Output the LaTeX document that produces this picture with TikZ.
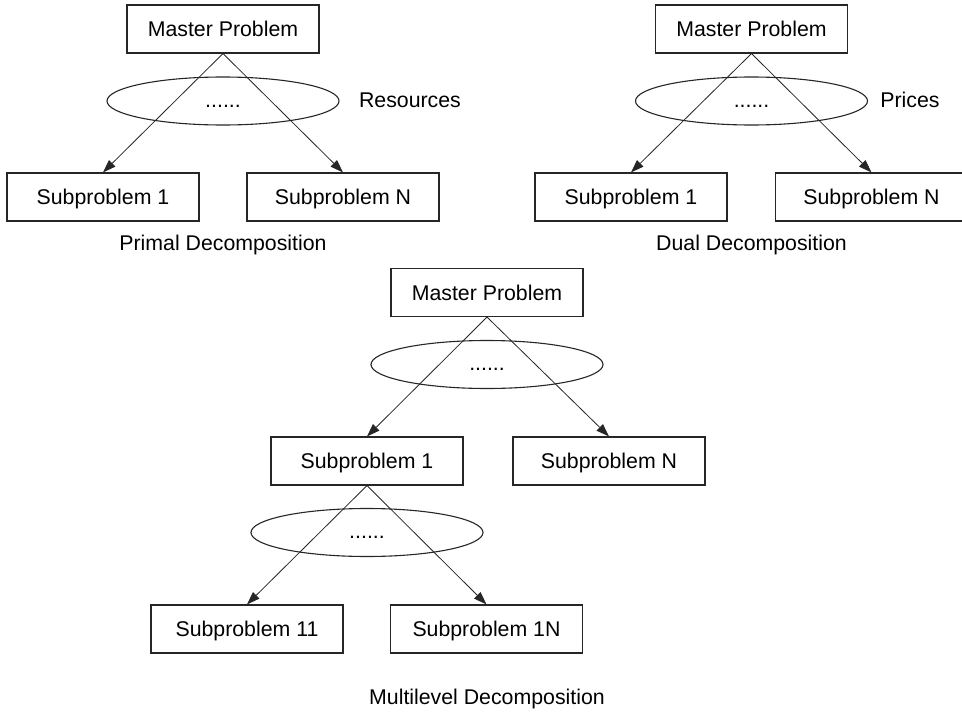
\documentclass[tikz,border=0pt]{standalone}
\usepackage{fontspec}
\setmainfont{Liberation Sans}
\usetikzlibrary{shapes.geometric,arrows.meta}
\begin{document}
\begin{tikzpicture}[x=1pt,y=-1pt,
  font=\fontsize{21.3}{25}\selectfont,
  box/.style={draw=black!85, line width=1.1pt, minimum width=192pt,
    minimum height=48pt, inner sep=0pt, text height=15.3pt, text depth=0pt},
  group/.style={draw=black!85, line width=1.1pt, ellipse, minimum width=232pt,
    minimum height=48pt, inner sep=0pt},
  dots/.style={inner sep=0pt, anchor=base},
  link/.style={draw=black!85, line width=0.8pt,
    -{Triangle[length=13pt,width=9pt]}},
  caption/.style={inner sep=0pt, text height=15.3pt, text depth=0pt}]

\useasboundingbox (0,0) rectangle (962,712);

% ---- Primal decomposition ----
\node[box] (pm) at (223,29) {Master Problem};
\node[group] (pe) at (223,101) {};
\node[dots] (pd) at (223,107) {......};
\node[caption] (pr) at (410,100) {Resources};
\node[box] (p1) at (103,197) {Subproblem 1};
\node[box] (pn) at (343,197) {Subproblem N};
\node[caption] (pc) at (223,243) {Primal Decomposition};
\draw[link] (pm.south) -- (p1.north);
\draw[link] (pm.south) -- (pn.north);

% ---- Dual decomposition ----
\node[box] (dm) at (751.5,29) {Master Problem};
\node[group] (de) at (751.5,101) {};
\node[dots] (dd) at (751.5,107) {......};
\node[caption] (dp) at (910,100) {Prices};
\node[box] (d1) at (631,197) {Subproblem 1};
\node[box] (dn) at (871.5,197) {Subproblem N};
\node[caption] (dc) at (751.5,243) {Dual Decomposition};
\draw[link] (dm.south) -- (d1.north);
\draw[link] (dm.south) -- (dn.north);

% ---- Multilevel decomposition ----
\node[box] (mm) at (487,292.5) {Master Problem};
\node[group] (me) at (487,364.5) {};
\node[dots] (md) at (487,370.5) {......};
\node[box] (m1) at (367,461) {Subproblem 1};
\node[box] (mn) at (609,461) {Subproblem N};
\draw[link] (mm.south) -- (m1.north);
\draw[link] (mm.south) -- (mn.north);

\node[group] (se) at (367,532.5) {};
\node[dots] (sd) at (367,538.5) {......};
\node[box] (s11) at (247,629) {Subproblem 11};
\node[box] (s1n) at (486.5,629) {Subproblem 1N};
\draw[link] (m1.south) -- (s11.north);
\draw[link] (m1.south) -- (s1n.north);

\node[caption] (mc) at (487,697) {Multilevel Decomposition};
\end{tikzpicture}
\end{document}
